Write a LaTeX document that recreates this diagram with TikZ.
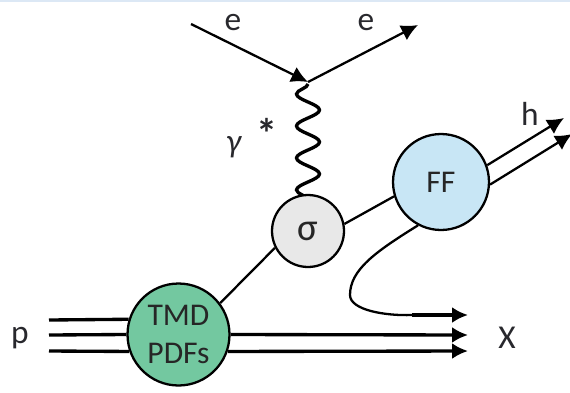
\documentclass[tikz,border=0pt]{standalone}
\usepackage{fontspec}
\setmainfont{Carlito}
\usetikzlibrary{arrows.meta,decorations.pathmorphing}
\definecolor{tmdgreen}{RGB}{115,200,160}
\definecolor{ffblue}{RGB}{200,230,245}
\definecolor{sigmagray}{RGB}{232,232,232}
\definecolor{bandblue}{RGB}{220,232,245}
\definecolor{labelgray}{RGB}{40,40,45}
\tikzset{
  blob/.style={circle,draw,line width=1.3pt,inner sep=0pt,align=center,text=black!85},
  lep/.style={line width=1.3pt,-{Latex[length=9.5pt,width=9.5pt]}},
  prt/.style={line width=1.9pt,-{Latex[length=9pt,width=9pt]}},
  spect/.style={line width=1.9pt},
  lbl/.style={text=labelgray,font=\fontsize{19}{19}\selectfont,inner sep=0pt},
}
\begin{document}
\begin{tikzpicture}[x=0.02cm,y=-0.02cm]
  \useasboundingbox (0,0) rectangle (570,392);
  \fill[bandblue] (0,0) rectangle (570,2);
  % electrons
  \coordinate (ein) at (191,24);
  \coordinate (eout) at (418,25);
  \coordinate (vtx) at (308,82);
  \coordinate (gam) at (308,84);
  \coordinate (gamend) at (308,213);
  \draw[lep] (ein) -- (vtx);
  \draw[lep] (vtx) -- (eout);
  % runs on under the sigma blob
  \draw[line width=1.9pt,decorate,decoration={snake,mirror,segment length=0.64cm,amplitude=0.23cm,post length=0pt}] (gam) -- (gamend);
  % blobs
  \node[blob,fill=tmdgreen,minimum size=2.04cm,font=\fontsize{18}{22}\selectfont] (tmd) at (178.5,334.5) {TMD\\PDFs};
  \node[blob,fill=sigmagray,minimum size=1.44cm,font=\fontsize{22}{22}\selectfont] (sig) at (308,231) {σ};
  \node[blob,fill=ffblue,minimum size=1.92cm,font=\fontsize{18}{18}\selectfont] (ff) at (441,182) {FF};
  % quark lines
  \draw[line width=1.3pt] (tmd.37) -- (sig.207);
  \draw[line width=1.3pt] (sig.11) -- (ff.197);
  \coordinate (ha) at (564,118);
  \coordinate (hb) at (572,134);
  \draw[lep] (ff.20) -- (ha);
  \draw[lep] (ff.-3) -- (hb);
  % proton and remnants
  \coordinate (pa) at (49,320);
  \coordinate (pb) at (49,335);
  \coordinate (pc) at (49,351);
  \coordinate (xa) at (468,315);
  \coordinate (xb) at (468,335);
  \coordinate (xc) at (468,351);
  \draw[spect] (pa) -- (tmd.163);
  \draw[spect] (pb) -- (tmd.180);
  \draw[spect] (pc) -- (tmd.199);
  \draw[prt] (tmd.0) -- (xb);
  \draw[prt] (tmd.-19) -- (xc);
  \draw[line width=1.3pt] (ff.-118) .. controls (375,252) and (350,270) .. (350,295)
    .. controls (350,310) and (385,316) .. (412,315);
  \draw[prt] (412,315) -- (xa);
  % labels
  \node[lbl] (le1) at (233,23) {e};
  \node[lbl] (le2) at (366,23) {e};
  \node[lbl] (lh) at (530,114) {h};
  \node[lbl] (lg) at (234,147) {\textit{γ}};
  \node[lbl,font=\fontsize{24}{24}\bfseries] (ls) at (267,133) {*};
  \node[lbl] (lp) at (20,338) {p};
  \node[lbl] (lx) at (507,338) {X};
\end{tikzpicture}
\end{document}
